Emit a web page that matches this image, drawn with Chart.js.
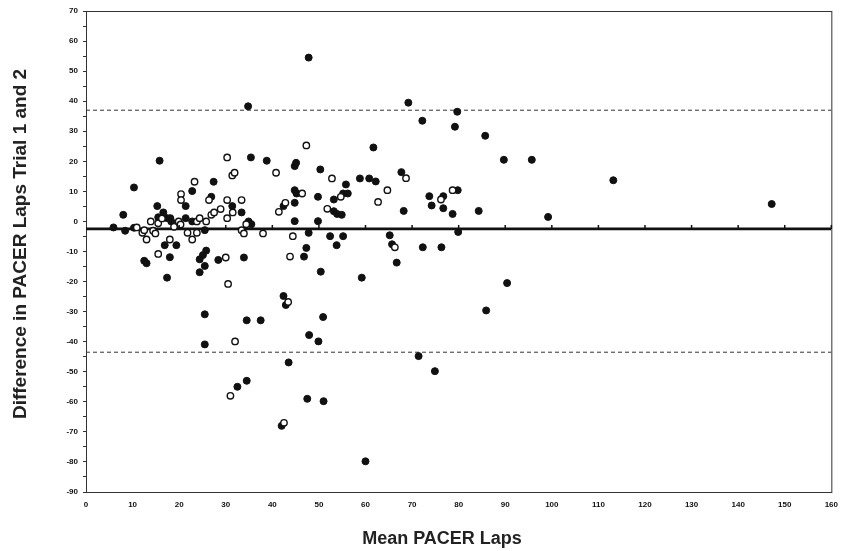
<!DOCTYPE html>
<html lang="en">
<head>
    <meta charset="UTF-8">
    <title>Mean PACER Laps vs Difference</title>
    <script src="https://cdn.jsdelivr.net/npm/chart.js@4.4.0/dist/chart.umd.min.js"></script>
    <style>
        body {
            margin: 0;
            background: #fff;
        }
        #wrap {
            width: 846px;
            height: 551px;
        }
    </style>
</head>
<body>
    <div id="wrap">
        <canvas id="chart" width="846" height="551"></canvas>
    </div>

    <script>
        // filled markers
        const filledMean = [5.9, 8.0, 8.4, 10.3, 10.3, 12.5, 13.0, 15.3, 15.5, 15.8, 16.6, 16.9, 17.4, 17.4, 18.1, 18.3, 18.0, 19.4,
            21.4, 21.4, 22.8, 22.8, 24.4, 24.4, 25.1, 25.8, 25.5, 25.5, 25.5, 25.5, 26.9, 27.4, 28.4, 31.4, 32.5, 33.4, 33.9,
            34.5, 34.5, 34.8, 34.9, 35.5, 35.4, 37.5, 38.8, 42.0, 42.4, 42.4, 42.9, 43.5, 44.8, 45.1, 44.8, 45.2, 44.8, 44.8,
            46.8, 47.3, 47.5, 47.8, 47.8, 47.9, 49.8, 49.8, 49.9, 50.3, 50.4, 50.9, 51.0, 52.4, 53.2, 53.2, 53.8, 53.9, 54.9,
            55.2, 55.2, 55.8, 56.2, 58.8, 59.2, 60.0, 60.8, 61.7, 62.2, 65.2, 65.7, 66.7, 67.7, 68.2, 69.2, 71.4, 72.2, 72.3,
            73.7, 74.2, 74.9, 76.3, 76.7, 76.7, 78.7, 79.2, 79.7, 79.8, 79.9, 84.3, 85.7, 85.9, 89.7, 90.4, 95.7, 99.2, 113.2, 147.2];
        const filledDiff = [-2, 2.2, -3.1, 11.3, -2.1, -13.1, -13.9, 5.1, 1.4, 20.2, 3.0, -7.9, -18.7, 1.1, 1.1, 0, -11.9, -7.9,
            5.1, 1.1, 10.1, 0, -12.6, -16.9, -11.2, -9.7, -14.8, -2.9, -30.9, -40.9, 8.2, 13.2, -12.8, 5.1, -55, 3.0, -12,
            -32.9, -53, 38.3, 0, -0.9, 21.3, -32.9, 20.2, -68, 5.1, -24.8, -27.8, -46.9, 18.4, 19.5, 10.4, 9.3, 6.2, 0.1,
            -11.7, -8.8, -59, -3.8, 54.5, -37.8, 8.2, 0.1, -39.9, 17.3, -16.7, -31.8, -59.8, -4.9, 7.3, 3.4, -7.9, 2.5, 2.2,
            9.3, -4.9, 12.3, 9.3, 14.3, -18.7, -79.8, 14.3, 24.6, 13.3, -4.6, -7.6, -13.7, 16.4, 3.5, 39.5, -44.8, 33.5, -8.6,
            8.4, 5.3, -49.8, -8.6, 8.4, 4.4, 2.5, 31.5, 36.5, 10.4, -3.5, 3.5, 28.5, -29.6, 20.5, -20.5, 20.5, 1.5, 13.7, 5.8];

        // open markers
        const openMean = [10.9, 12.1, 12.5, 13.0, 13.9, 14.4, 14.9, 15.5, 15.5, 16.3, 18.0, 18.9, 19.9, 20.3, 20.4, 20.4, 21.8,
            22.8, 23.3, 23.8, 23.8, 24.4, 25.8, 26.4, 26.9, 27.5, 28.9, 30.0, 30.3, 30.3, 30.3, 30.5, 31.0, 31.4, 31.9, 31.5,
            32.0, 33.4, 33.4, 33.9, 34.4, 38.0, 40.8, 41.4, 42.5, 42.8, 43.4, 43.8, 44.4, 46.4, 47.3, 51.8, 52.8, 54.7, 62.7,
            64.7, 66.3, 68.7, 76.2, 78.7];
        const openDiff = [-2, -3.8, -2.9, -6, 0, -3.1, -4, -0.6, -10.8, 1, -6, -1.8, 0, -1, 9.1, 7.1, -3.8,
            -6, 13.2, -3.8, 0, 1.1, 0, 7.1, 2.2, 3.0, 4.1, -12, 21.3, 7.1, 1.1, -20.8, -58, 15.3, 16.2, 3.0,
            -39.9, 7.1, -2.9, -4, -0.9, -4, 16.2, 3.2, -67, 6.2, -26.8, -11.7, -4.9, 9.3, 25.3, 4.2, 14.3, 8.2, 6.5,
            10.4, -8.6, 14.4, 7.3, 10.4];

        const meanDiff = -2.5;
        const upperLimit = 37;
        const lowerLimit = -43.5;
        const xRange = [0, 160];
        const yRange = [-90, 70];

        const xTitle = 'Mean PACER Laps';
        const yTitle = 'Difference in PACER Laps Trial 1 and 2';

        function toPoints(xs, ys) {
            return xs.map((x, i) => ({ x: x, y: ys[i] }));
        }

        function flatLine(v) {
            return [{ x: xRange[0], y: v }, { x: xRange[1], y: v }];
        }

        const ink = '#111';
        const fontFamily = 'Arial, "Liberation Sans", sans-serif';

        // frame round the plot, ticks on the mean line, axis titles
        const framePlugin = {
            id: 'frame',
            beforeDatasetsDraw(chart) {
                const a = chart.chartArea;
                const ctx = chart.ctx;
                ctx.save();
                ctx.strokeStyle = '#333';
                ctx.lineWidth = 1;
                ctx.strokeRect(a.left + 0.5, a.top + 0.5, a.right - a.left, a.bottom - a.top);
                ctx.restore();
            },
            afterDatasetsDraw(chart) {
                const xs = chart.scales.x;
                const ys = chart.scales.y;
                const ctx = chart.ctx;
                const yPix = ys.getPixelForValue(meanDiff);
                ctx.save();
                ctx.strokeStyle = ink;
                ctx.lineWidth = 1.5;
                for (let v = 10; v <= 160; v += 10) {
                    const px = xs.getPixelForValue(v);
                    ctx.beginPath();
                    ctx.moveTo(px, yPix);
                    ctx.lineTo(px, yPix - 4);
                    ctx.stroke();
                }
                ctx.restore();
            },
            afterDraw(chart) {
                const ctx = chart.ctx;
                ctx.save();
                ctx.fillStyle = '#222';
                ctx.textAlign = 'center';
                ctx.textBaseline = 'middle';
                ctx.font = 'bold 18px ' + fontFamily;
                ctx.fillText(xTitle, 442, 539);
                ctx.translate(21, 244);
                ctx.rotate(-Math.PI / 2);
                ctx.font = 'bold 19px ' + fontFamily;
                ctx.fillText(yTitle, 0, 0);
                ctx.restore();
            }
        };

        new Chart(document.getElementById('chart'), {
            type: 'scatter',
            data: {
                datasets: [
                    {
                        label: 'open',
                        data: toPoints(openMean, openDiff),
                        pointRadius: 3.2,
                        pointBackgroundColor: '#fff',
                        pointBorderColor: ink,
                        pointBorderWidth: 1.4
                    },
                    {
                        label: 'filled',
                        data: toPoints(filledMean, filledDiff),
                        pointRadius: 3.5,
                        pointBackgroundColor: ink,
                        pointBorderColor: ink,
                        pointBorderWidth: 1
                    },
                    {
                        label: 'upper',
                        data: flatLine(upperLimit),
                        showLine: true,
                        pointRadius: 0,
                        borderColor: '#333',
                        borderWidth: 1,
                        borderDash: [4, 3]
                    },
                    {
                        label: 'lower',
                        data: flatLine(lowerLimit),
                        showLine: true,
                        pointRadius: 0,
                        borderColor: '#333',
                        borderWidth: 1,
                        borderDash: [4, 3]
                    },
                    {
                        label: 'mean',
                        data: flatLine(meanDiff),
                        showLine: true,
                        pointRadius: 0,
                        borderColor: ink,
                        borderWidth: 2.8
                    }
                ]
            },
            options: {
                responsive: false,
                animation: false,
                devicePixelRatio: 1,
                layout: {
                    padding: { top: 11, right: 13, left: 0, bottom: 0 }
                },
                plugins: {
                    legend: { display: false },
                    tooltip: { enabled: false }
                },
                scales: {
                    x: {
                        type: 'linear',
                        min: xRange[0],
                        max: xRange[1],
                        grid: { display: false, drawTicks: false },
                        border: { display: true, color: '#333', width: 1 },
                        ticks: {
                            stepSize: 10,
                            padding: 8,
                            color: ink,
                            maxRotation: 0,
                            font: { family: fontFamily, size: 8, weight: 'bold' }
                        },
                        afterFit(scale) {
                            scale.height = 59;
                        }
                    },
                    y: {
                        type: 'linear',
                        min: yRange[0],
                        max: yRange[1],
                        grid: { drawOnChartArea: false, tickLength: 3, color: '#333' },
                        border: { display: true, color: '#333', width: 1 },
                        ticks: {
                            stepSize: 5,
                            padding: 5,
                            color: ink,
                            font: { family: fontFamily, size: 8, weight: 'bold' },
                            callback: v => (v % 10 === 0 ? v : '')
                        },
                        afterFit(scale) {
                            scale.width = 86;
                        }
                    }
                }
            },
            plugins: [framePlugin]
        });
    </script>
</body>
</html>
